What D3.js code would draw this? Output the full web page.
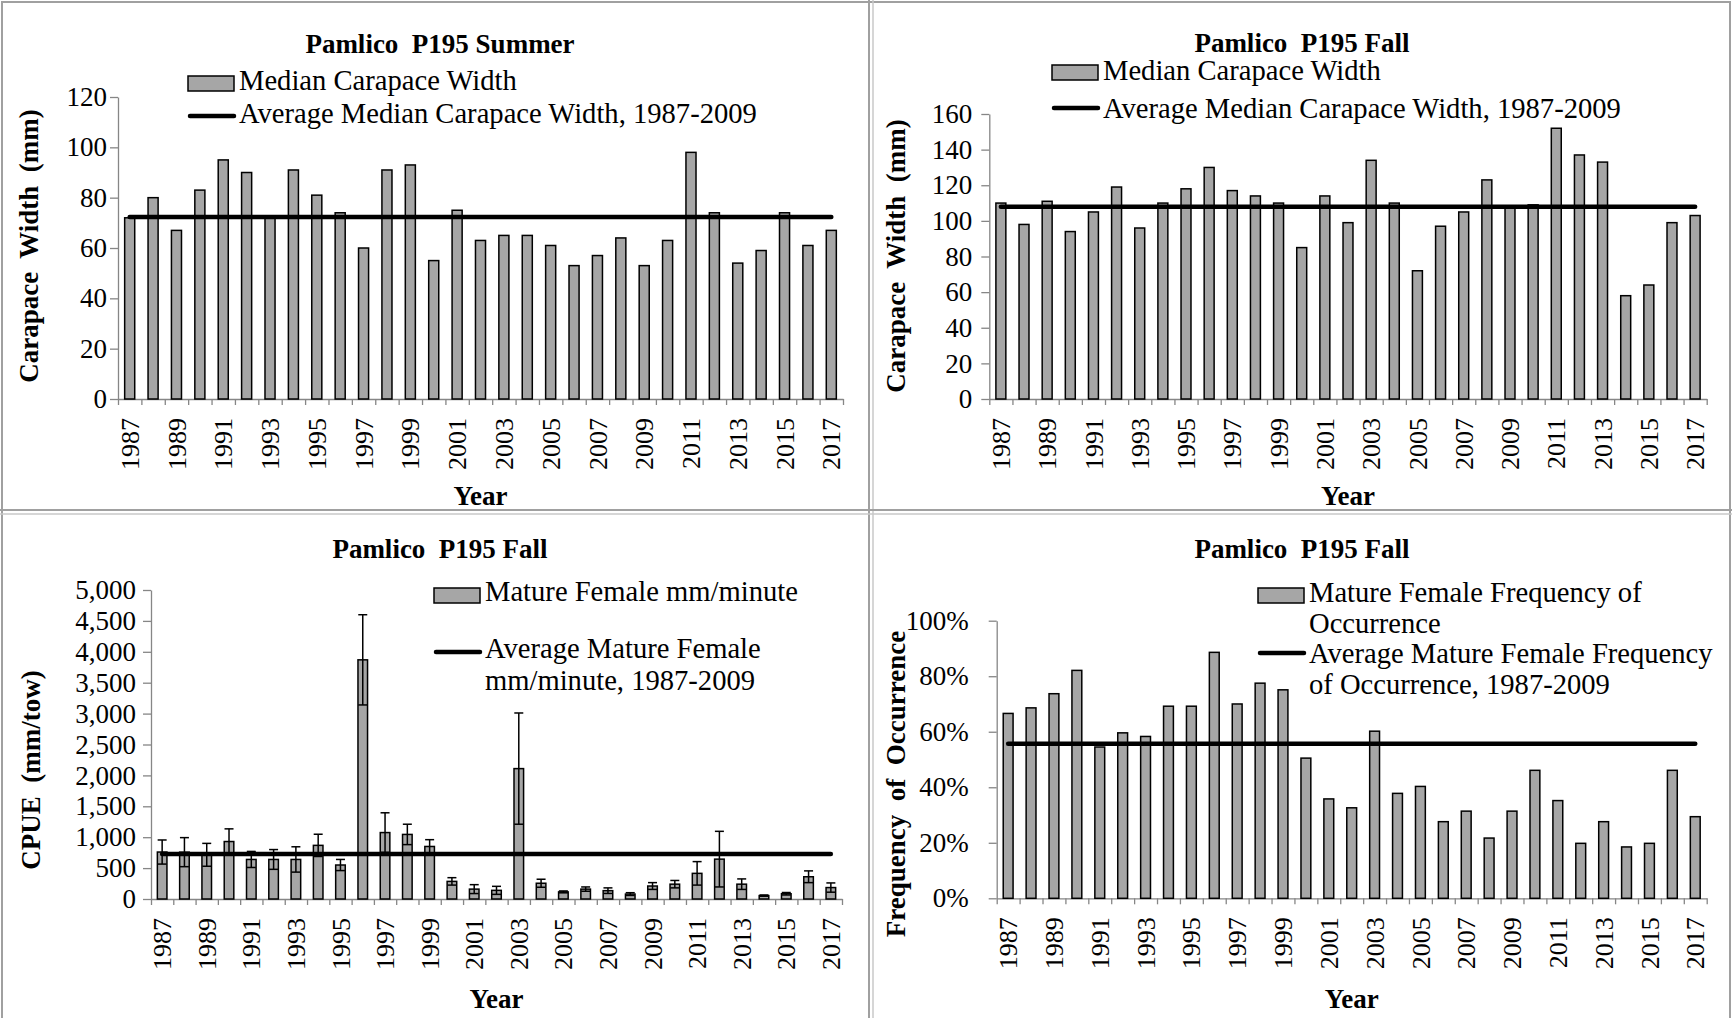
<!DOCTYPE html>
<html>
<head>
<meta charset="utf-8">
<script src="https://cdn.jsdelivr.net/npm/d3@7"></script>
<style>
    body { margin: 0; background: #fff; }
    text { font-family: "Liberation Serif", "Times New Roman", serif; fill: #000; white-space: pre; }
</style>
</head>
<body>
<svg id="chart" width="1732" height="1018"></svg>
<script>
// categories (same for all four panels)
const years = [1987, 1988, 1989, 1990, 1991, 1992, 1993, 1994, 1995, 1996, 1997, 1998, 1999, 2000,
    2001, 2002, 2003, 2004, 2005, 2006, 2007, 2008, 2009, 2010, 2011, 2012, 2013, 2014, 2015, 2016, 2017];
const labelYears = [1987, 1989, 1991, 1993, 1995, 1997, 1999, 2001, 2003, 2005, 2007, 2009, 2011, 2013, 2015, 2017];

// Summer median carapace width (mm)
const summerWidth = [72, 80, 67, 83, 95, 90, 72, 91, 81, 74, 60, 91, 93, 55, 75, 63, 65, 65, 61, 53, 57, 64, 53, 63, 98, 74, 54, 59, 74, 61, 67];
const summerAvg = 72.3;

// Fall median carapace width (mm)
const fallWidth = [110, 98, 111, 94, 105, 119, 96, 110, 118, 130, 117, 114, 110, 85, 114, 99, 134, 110, 72, 97, 105, 123, 108, 109, 152, 137, 133, 58, 64, 99, 103];
const fallAvg = 108;

// Fall mature female CPUE (mm/tow) and its error
const cpue = [760, 758, 715, 930, 640, 640, 640, 868, 550, 3870, 1075, 1045, 850, 285, 160, 140, 2110, 255, 115, 160, 135, 80, 210, 240, 415, 645, 240, 55, 85, 360, 185];
const cpueErr = [195, 235, 185, 205, 130, 160, 205, 180, 90, 730, 320, 165, 110, 60, 72, 65, 900, 65, 15, 35, 45, 22, 55, 60, 190, 450, 85, 10, 20, 95, 75];
const cpueAvg = 730;

// Fall mature female frequency of occurrence (%)
const freq = [66.6, 68.6, 73.7, 82.1, 54.5, 59.6, 58.3, 69.2, 69.2, 88.6, 70, 77.5, 75.1, 50.5, 35.8, 32.6, 60.2, 37.8, 40.3, 27.6, 31.4, 21.7, 31.4, 46.1, 35.2, 19.8, 27.6, 18.5, 19.8, 46.1, 29.4];
const freqAvg = 55.7;

const svg = d3.select("#chart");
const axisColor = "#868686";
const barColor = "#a6a6a6";

/**
 * Draws one Excel-style bar panel.
 */
function drawPanel(p) {
    let g = svg.append("g");

    let x = d3.scaleBand()
        .domain(years)
        .range([p.x0, p.x1])
        .paddingInner(0.57)
        .paddingOuter(0.285);

    let y = d3.scaleLinear()
        .domain([0, p.max])
        .range([p.yBottom, p.yTop]);

    let cx = d => x(d) + x.bandwidth() / 2;

    // y axis
    let yAxis = g.append("g")
        .attr("transform", `translate(${p.x0},0)`)
        .call(d3.axisLeft(y).tickValues(p.ticks).tickSize(8).tickSizeOuter(0)
            .tickPadding(p.labelPad).tickFormat(p.fmt));
    yAxis.selectAll("text").style("font-size", "27px").attr("font-family", null);

    // x axis: ticks sit between categories
    let xb = d3.scaleLinear().domain([0, years.length]).range([p.x0, p.x1]);
    let xAxis = g.append("g")
        .attr("transform", `translate(0,${p.yBottom})`)
        .call(d3.axisBottom(xb).tickValues(d3.range(0, years.length + 1)).tickSize(6)
            .tickSizeOuter(0).tickFormat(""));

    [yAxis, xAxis].forEach(a => {
        a.select(".domain").attr("stroke", axisColor).attr("stroke-width", 1.3);
        a.selectAll(".tick line").attr("stroke", axisColor).attr("stroke-width", 1.3);
    });

    g.selectAll(".xl")
        .data(labelYears)
        .join("text")
        .attr("class", "xl")
        .attr("transform", d => `translate(${cx(d)},${p.yBottom + 19}) rotate(-90)`)
        .attr("text-anchor", "end")
        .attr("dy", "0.35em")
        .style("font-size", "26px")
        .text(d => d);

    // bars
    let rows = years.map((yr, i) => ({year: yr, v: p.values[i], e: p.errors ? p.errors[i] : 0}));
    g.selectAll(".bar")
        .data(rows)
        .join("rect")
        .attr("class", "bar")
        .attr("x", d => x(d.year))
        .attr("width", x.bandwidth())
        .attr("y", d => y(d.v))
        .attr("height", d => y(0) - y(d.v))
        .attr("fill", barColor)
        .attr("stroke", "#000")
        .attr("stroke-width", 1.5);

    // error bars
    if (p.errors) {
        let eb = g.selectAll(".err")
            .data(rows)
            .join("g")
            .attr("class", "err")
            .attr("stroke", "#000")
            .attr("stroke-width", 1.5);
        eb.append("line")
            .attr("x1", d => cx(d.year)).attr("x2", d => cx(d.year))
            .attr("y1", d => y(d.v + d.e)).attr("y2", d => y(Math.max(0, d.v - d.e)));
        [1, -1].forEach(s => {
            eb.append("line")
                .attr("x1", d => cx(d.year) - 4.5).attr("x2", d => cx(d.year) + 4.5)
                .attr("y1", d => y(Math.max(0, d.v + s * d.e))).attr("y2", d => y(Math.max(0, d.v + s * d.e)));
        });
    }

    // average line
    g.append("line")
        .attr("x1", cx(years[0]))
        .attr("x2", cx(years[years.length - 1]))
        .attr("y1", y(p.avg))
        .attr("y2", y(p.avg))
        .attr("stroke", "#000")
        .attr("stroke-width", 4.5)
        .attr("stroke-linecap", "round");

    // titles
    g.append("text")
        .attr("x", p.titleX).attr("y", p.titleY)
        .attr("text-anchor", "middle")
        .style("font-size", "27px").style("font-weight", "bold")
        .text(p.title);

    g.append("text")
        .attr("x", (p.x0 + p.x1) / 2).attr("y", p.yearY)
        .attr("text-anchor", "middle")
        .style("font-size", "27px").style("font-weight", "bold")
        .text("Year");

    g.append("text")
        .attr("transform", `translate(${p.yTitleX},${p.yTitleY}) rotate(-90)`)
        .attr("text-anchor", "middle")
        .style("font-size", "27px").style("font-weight", "bold")
        .text(p.yTitle);

    // legend
    let L = p.legend;
    g.append("rect")
        .attr("x", L.x).attr("y", L.boxY)
        .attr("width", 46).attr("height", 15)
        .attr("fill", barColor).attr("stroke", "#000").attr("stroke-width", 1.5);
    L.barText.forEach((t, i) => {
        g.append("text")
            .attr("x", L.x + 51).attr("y", L.barTextY + i * L.gap)
            .style("font-size", "28.6px")
            .text(t);
    });
    g.append("line")
        .attr("x1", L.x + 2).attr("x2", L.x + 46)
        .attr("y1", L.lineY).attr("y2", L.lineY)
        .attr("stroke", "#000").attr("stroke-width", 4.5).attr("stroke-linecap", "round");
    L.lineText.forEach((t, i) => {
        g.append("text")
            .attr("x", L.x + 51).attr("y", L.lineTextY + i * L.gap)
            .style("font-size", "28.6px")
            .text(t);
    });
}

// panel frames
svg.append("rect")
    .attr("x", 2).attr("y", 2).attr("width", 1728).attr("height", 1020)
    .attr("fill", "none").attr("stroke", "#a0a0a0").attr("stroke-width", 2);
svg.append("line").attr("x1", 869).attr("x2", 869).attr("y1", 0).attr("y2", 1018)
    .attr("stroke", "#a0a0a0").attr("stroke-width", 2);
svg.append("line").attr("x1", 873).attr("x2", 873).attr("y1", 0).attr("y2", 1018)
    .attr("stroke", "#c8c8c8").attr("stroke-width", 1.5);
svg.append("line").attr("x1", 0).attr("x2", 1732).attr("y1", 510).attr("y2", 510)
    .attr("stroke", "#a0a0a0").attr("stroke-width", 2);
svg.append("line").attr("x1", 0).attr("x2", 1732).attr("y1", 514).attr("y2", 514)
    .attr("stroke", "#c8c8c8").attr("stroke-width", 1.5);

drawPanel({
    values: summerWidth, avg: summerAvg,
    x0: 118, x1: 843, yTop: 97, yBottom: 399, max: 120,
    ticks: [0, 20, 40, 60, 80, 100, 120], fmt: d3.format("d"), labelPad: 3,
    title: "Pamlico  P195 Summer", titleX: 440, titleY: 53, yearY: 505,
    yTitle: "Carapace  Width  (mm)", yTitleX: 38, yTitleY: 246,
    legend: {x: 188, boxY: 76, barTextY: 90, barText: ["Median Carapace Width"], gap: 32,
        lineY: 116, lineTextY: 123, lineText: ["Average Median Carapace Width, 1987-2009"]}
});

drawPanel({
    values: fallWidth, avg: fallAvg,
    x0: 989.3, x1: 1706.7, yTop: 114, yBottom: 399, max: 160,
    ticks: [0, 20, 40, 60, 80, 100, 120, 140, 160], fmt: d3.format("d"), labelPad: 9,
    title: "Pamlico  P195 Fall", titleX: 1302, titleY: 52, yearY: 505,
    yTitle: "Carapace  Width  (mm)", yTitleX: 905, yTitleY: 256,
    legend: {x: 1052, boxY: 65, barTextY: 80, barText: ["Median Carapace Width"], gap: 32,
        lineY: 108, lineTextY: 118, lineText: ["Average Median Carapace Width, 1987-2009"]}
});

drawPanel({
    values: cpue, errors: cpueErr, avg: cpueAvg,
    x0: 151, x1: 842, yTop: 590, yBottom: 899, max: 5000,
    ticks: d3.range(0, 5001, 500), fmt: d3.format(","), labelPad: 7,
    title: "Pamlico  P195 Fall", titleX: 440, titleY: 558, yearY: 1008,
    yTitle: "CPUE  (mm/tow)", yTitleX: 40, yTitleY: 770,
    legend: {x: 434, boxY: 588, barTextY: 601, barText: ["Mature Female mm/minute"], gap: 32,
        lineY: 652, lineTextY: 658, lineText: ["Average Mature Female", "mm/minute, 1987-2009"]}
});

drawPanel({
    values: freq, avg: freqAvg,
    x0: 996.7, x1: 1706.7, yTop: 620.7, yBottom: 898.3, max: 100,
    ticks: [0, 20, 40, 60, 80, 100], fmt: d => d + "%", labelPad: 20,
    title: "Pamlico  P195 Fall", titleX: 1302, titleY: 558, yearY: 1008,
    yTitle: "Frequency  of  Occurrence", yTitleX: 905, yTitleY: 784,
    legend: {x: 1258, boxY: 588, barTextY: 602, barText: ["Mature Female Frequency of", "Occurrence"], gap: 31,
        lineY: 653, lineTextY: 663, lineText: ["Average Mature Female Frequency", "of Occurrence, 1987-2009"]}
});
</script>
</body>
</html>
